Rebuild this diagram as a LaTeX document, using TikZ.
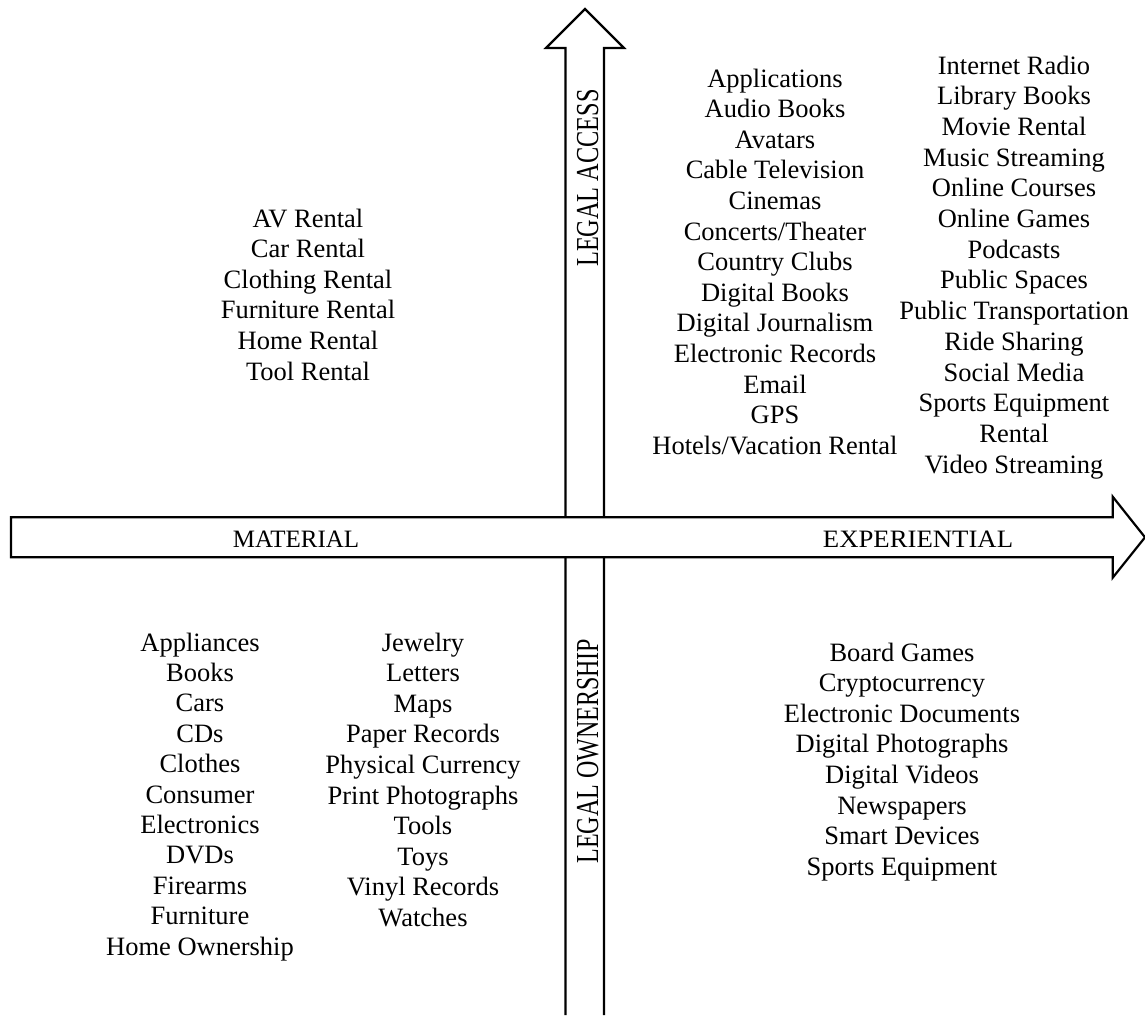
\documentclass[tikz,border=0pt]{standalone}
\usepackage{fontspec}
\setmainfont{Liberation Serif}
\begin{document}
\begin{tikzpicture}[x=1pt,y=-1pt,
  entry/.style={font=\fontsize{26.5}{30.6}\selectfont, anchor=base, inner sep=0pt},
  axislabel/.style={font=\fontsize{25}{30}\selectfont, anchor=base, inner sep=0pt},
  vlabel/.style={font=\fontsize{32}{36}\selectfont, anchor=base, inner sep=0pt, rotate=90},
  axisline/.style={line width=2.2pt, line join=miter}]
\useasboundingbox (0,0) rectangle (1145,1015);
\clip (0,0) rectangle (1145,1015);

% vertical axis: ownership (bottom) to access (top)
\draw[axisline] (565.5,1015) -- (565.5,48) -- (546,48) -- (585,9)
  -- (624,48) -- (604,48) -- (604,1015);

% horizontal axis: material (left) to experiential (right)
\draw[axisline, fill=white] (11,517.3) -- (1112.7,517.3) -- (1112.7,496.7)
  -- (1145,537.3) -- (1112.7,577.7) -- (1112.7,557.3) -- (11,557.3) -- cycle;

% axis labels
\node[axislabel] (material) at (296,547) {MATERIAL};
\node[axislabel] (experiential) at (918,547) {\scalebox{1.07}[1]{EXPERIENTIAL}};
\node[vlabel] (access) at (598,178) {\scalebox{0.76}[1]{LEGAL ACCESS}};
\node[vlabel] (ownership) at (598,751) {\scalebox{0.75}[1]{LEGAL OWNERSHIP}};

% material + legal access
\foreach \t [count=\i from 0] in {AV Rental, Car Rental, Clothing Rental,
    Furniture Rental, Home Rental, Tool Rental}
  \node[entry] (ul\i) at (308,{227+30.6*\i}) {\t};

% experiential + legal access
\foreach \t [count=\i from 0] in {Applications, Audio Books, Avatars,
    Cable Television, Cinemas, Concerts/Theater, Country Clubs, Digital Books,
    Digital Journalism, Electronic Records, Email, GPS, Hotels/Vacation Rental}
  \node[entry] (um\i) at (775,{87+30.6*\i}) {\t};

\foreach \t [count=\i from 0] in {Internet Radio, Library Books, Movie Rental,
    Music Streaming, Online Courses, Online Games, Podcasts, Public Spaces,
    Public Transportation, Ride Sharing, Social Media, Sports Equipment,
    Rental, Video Streaming}
  \node[entry] (ur\i) at (1014,{74+30.7*\i}) {\t};

% material + legal ownership
\foreach \t [count=\i from 0] in {Appliances, Books, Cars, CDs, Clothes,
    Consumer, Electronics, DVDs, Firearms, Furniture, Home Ownership}
  \node[entry] (ll\i) at (200,{651+30.4*\i}) {\t};

\foreach \t [count=\i from 0] in {Jewelry, Letters, Maps, Paper Records,
    Physical Currency, Print Photographs, Tools, Toys, Vinyl Records, Watches}
  \node[entry] (lm\i) at (423,{651+30.6*\i}) {\t};

% experiential + legal ownership
\foreach \t [count=\i from 0] in {Board Games, Cryptocurrency,
    Electronic Documents, Digital Photographs, Digital Videos, Newspapers,
    Smart Devices, Sports Equipment}
  \node[entry] (lr\i) at (902,{661+30.6*\i}) {\t};
\end{tikzpicture}
\end{document}
